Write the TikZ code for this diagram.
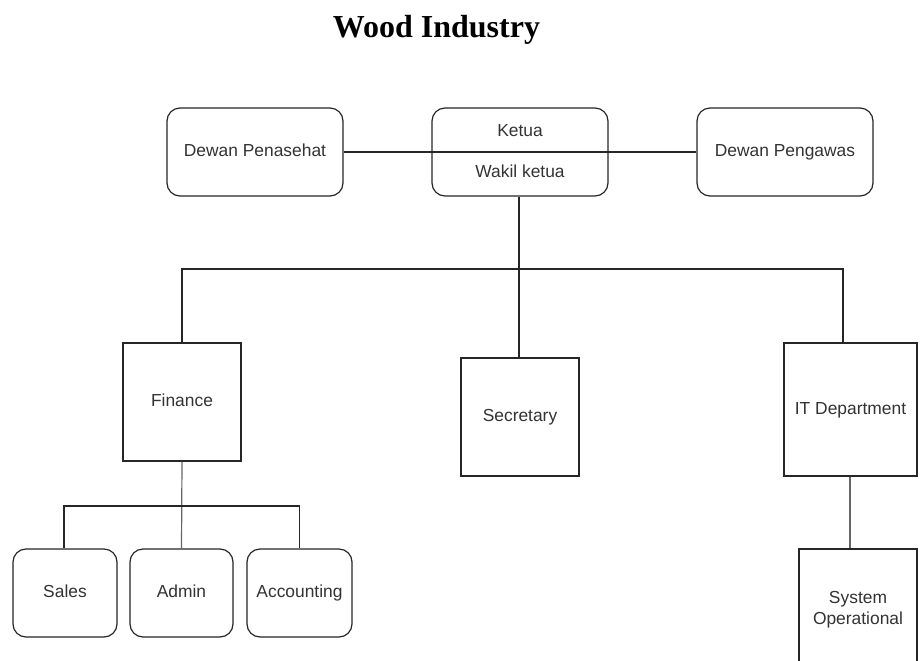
\documentclass[tikz,border=0pt]{standalone}
\usepackage{fontspec}
\setmainfont{Liberation Serif}
\newfontfamily\boxfont{Liberation Sans}
\begin{document}
\begin{tikzpicture}[x=0.5pt,y=-0.5pt,
  every node/.style={inner sep=0pt},
  txt/.style={font=\boxfont\fontsize{8.7pt}{10.5pt}\selectfont, text=black!80},
  one/.style={text height=6.3pt, text depth=1.7pt},
  rbox/.style={txt, draw=black!85, line width=0.6pt, rounded corners=6.5pt, fill=white, align=center},
  sbox/.style={txt, draw=black!85, line width=0.6pt, fill=white, align=center},
  conn/.style={draw=black!85, line width=0.6pt},
  gconn/.style={draw=black!60, line width=0.6pt}]
\clip (0,0) rectangle (922,660);
\fill[white] (0,0) rectangle (922,660);
\node[font=\bfseries\fontsize{16pt}{19pt}\selectfont, anchor=base] (title) at (436.5,37) {Wood Industry};
% top row
\node[rbox, one, minimum width=88pt, minimum height=44pt] (dp) at (255,152) {Dewan Penasehat};
\node[rbox, minimum width=88pt, minimum height=44pt] (ketua) at (520,152) {};
\node[rbox, one, minimum width=88pt, minimum height=44pt] (dpg) at (785,152) {Dewan Pengawas};
\draw[conn] (dp.east) -- (dpg.west);
\node[txt, one] (k1) at (520,132) {Ketua};
\node[txt, one] (k2) at (520,173) {Wakil ketua};
% second row
\node[sbox, one, minimum width=59pt, minimum height=59pt] (fin) at (182,402) {Finance};
\node[sbox, one, minimum width=59pt, minimum height=59pt] (sec) at (520,417) {Secretary};
\node[sbox, one, minimum width=66.5pt, minimum height=66.5pt] (it) at (850.5,409.5) {IT Department};
% third row
\node[rbox, one, minimum width=52pt, minimum height=44pt] (sales) at (65,593) {Sales};
\node[rbox, one, minimum width=51.5pt, minimum height=44pt] (admin) at (181.5,593) {Admin};
\node[rbox, one, minimum width=52.5pt, minimum height=44pt] (acc) at (299.5,593) {Accounting};
\node[sbox, minimum width=59pt, minimum height=60.5pt] (sys) at (858,609.5) {System\\Operational};
% connectors
\coordinate (bar1) at (519,269);
\coordinate (bar2) at (182,506);
\draw[conn] (ketua.south -| bar1) -- (sec.north -| bar1);
\draw[conn] (fin.north) -- (fin.north |- bar1) -- (843,269) -- (it.north -| 843,0);
\draw[gconn] (fin.south) -- (admin.north);
\draw[conn] (sales.north -| 64,0) -- (64,506) -- (acc.north |- bar2) -- (acc.north);
\draw[gconn] (it.south -| 850,0) -- (sys.north -| 850,0);
\end{tikzpicture}
\end{document}
